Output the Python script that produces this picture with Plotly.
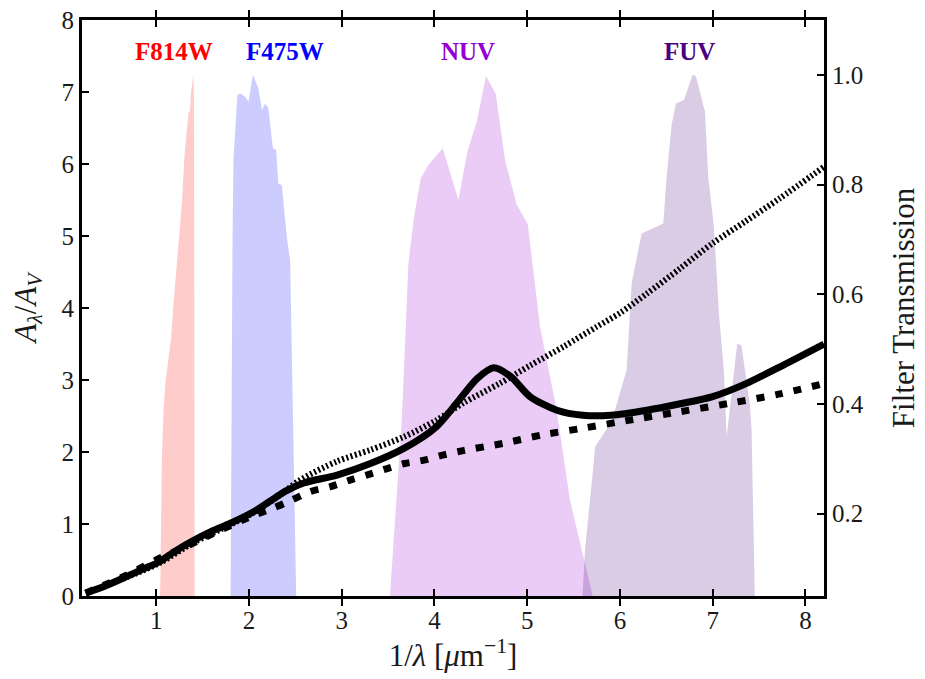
import plotly.graph_objects as go

# ---------------- data ----------------
# extinction curves  A_lambda / A_V  vs  1/lambda [um^-1]
solid_x = [0.24, 0.45, 0.68, 0.85, 1.04, 1.2, 1.4, 1.6, 1.8, 2.05, 2.23, 2.4, 2.59, 2.95,
           3.31, 3.67, 4.02, 4.24, 4.46, 4.64, 4.82, 5.03, 5.32, 5.6, 5.9, 6.29, 6.65,
           7.0, 7.36, 7.72, 8.2]
solid_y = [0.04, 0.14, 0.27, 0.37, 0.48, 0.62, 0.77, 0.90, 1.01, 1.17, 1.32, 1.46, 1.57, 1.68,
           1.84, 2.05, 2.35, 2.68, 3.02, 3.17, 3.05, 2.77, 2.58, 2.51, 2.51, 2.58, 2.67,
           2.77, 2.95, 3.18, 3.50]

dash_x = [0.24, 0.68, 1.08, 1.28, 1.6, 2.05, 2.26, 2.44, 2.66, 2.88, 3.09, 3.27, 3.49,
          3.68, 3.9, 4.1, 4.31, 4.74, 5.17, 5.6, 6.0, 6.65, 7.2, 7.7, 8.2]
dash_y = [0.04, 0.29, 0.55, 0.66, 0.86, 1.12, 1.22, 1.32, 1.45, 1.52, 1.61, 1.68, 1.77,
          1.84, 1.89, 1.96, 2.02, 2.12, 2.24, 2.33, 2.42, 2.56, 2.68, 2.80, 2.95]

dot_x = [0.24, 0.68, 1.04, 1.4, 1.8, 2.05, 2.3, 2.55, 2.95, 3.31, 3.67, 4.02, 4.31, 4.7,
         5.03, 5.4, 5.75, 6.0, 6.29, 6.65, 7.0, 7.35, 7.72, 8.2]
dot_y = [0.04, 0.26, 0.46, 0.74, 0.99, 1.16, 1.37, 1.61, 1.87, 2.03, 2.21, 2.44, 2.68, 2.95,
         3.20, 3.47, 3.74, 3.93, 4.20, 4.55, 4.90, 5.20, 5.52, 5.96]

# filter transmission curves (normalised)
f814_x = [1.035, 1.045, 1.061, 1.079, 1.10, 1.144, 1.16, 1.187, 1.24, 1.277, 1.305, 1.348,
          1.366, 1.374, 1.402, 1.408, 1.415]
f814_t = [0.0, 0.08, 0.30, 0.389, 0.44, 0.498, 0.52, 0.584, 0.693, 0.766, 0.854, 0.93,
          0.936, 0.966, 1.0, 0.95, 0.0]

f475_x = [1.80, 1.81, 1.823, 1.833, 1.85, 1.875, 1.905, 1.959, 1.995, 2.042, 2.067, 2.103,
          2.139, 2.175, 2.21, 2.258, 2.293, 2.318, 2.354, 2.408, 2.444, 2.462, 2.48, 2.505, 2.515]
f475_t = [0.0, 0.45, 0.70, 0.845, 0.89, 0.963, 0.966, 0.96, 0.951, 1.0, 0.99, 0.975,
          0.936, 0.948, 0.939, 0.866, 0.863, 0.802, 0.799, 0.705, 0.662, 0.48, 0.298, 0.079, 0.0]

nuv_x = [3.50, 3.55, 3.594, 3.648, 3.683, 3.719, 3.78, 3.852, 3.935, 4.09, 4.258, 4.355,
         4.456, 4.556, 4.661, 4.761, 4.887, 5.006, 5.138, 5.19, 5.318, 5.461, 5.605, 5.72, 5.75]
nuv_t = [0.0, 0.12, 0.225, 0.371, 0.51, 0.656, 0.741, 0.811, 0.836, 0.866, 0.772, 0.86,
         0.915, 0.998, 0.965, 0.845, 0.763, 0.728, 0.541, 0.498, 0.389, 0.225, 0.122, 0.04, 0.0]

fuv_x = [5.58, 5.623, 5.713, 5.731, 5.91, 6.072, 6.126, 6.234, 6.467, 6.503, 6.557, 6.603,
         6.69, 6.783, 6.819, 6.916, 6.952, 7.013, 7.07, 7.12, 7.15, 7.264, 7.31, 7.40, 7.419,
         7.447, 7.46]
fuv_t = [0.0, 0.134, 0.286, 0.322, 0.368, 0.462, 0.62, 0.711, 0.729, 0.814, 0.909, 0.948,
         0.954, 1.0, 0.998, 0.933, 0.814, 0.723, 0.559, 0.462, 0.34, 0.51, 0.507, 0.40, 0.353,
         0.055, 0.0]

filter_names = ["F814W", "F475W", "NUV", "FUV"]
filter_label_x = [1.19, 2.39, 4.36, 6.75]
filter_label_t = [1.042, 1.042, 1.042, 1.042]

x_ticks = [1, 2, 3, 4, 5, 6, 7, 8]
y_ticks = [0, 1, 2, 3, 4, 5, 6, 7, 8]
t_ticks = [0.2, 0.4, 0.6, 0.8, 1.0]
t_ticklabels = ["0.2", "0.4", "0.6", "0.8", "1.0"]

# ---------------- styling ----------------
FONT = "Liberation Serif"
TXT = "#1a1a1a"
filter_fill = ["rgba(255,0,0,0.2)", "rgba(0,0,255,0.2)", "rgba(148,0,211,0.2)", "rgba(75,0,130,0.2)"]
filter_text = ["#ff0000", "#0000ff", "#9400d3", "#4b0082"]

fig = go.Figure()

for fx, ft, fc in zip([f814_x, f475_x, nuv_x, fuv_x], [f814_t, f475_t, nuv_t, fuv_t], filter_fill):
    fig.add_trace(go.Scatter(x=fx, y=ft, mode="lines", fill="tozeroy", fillcolor=fc,
                             line=dict(width=0, color=fc), yaxis="y", hoverinfo="skip",
                             showlegend=False))

fig.add_trace(go.Scatter(x=dot_x, y=dot_y, mode="lines", yaxis="y2", showlegend=False,
                         line=dict(color="black", width=6, dash="2px,2.4px",
                                   shape="spline", smoothing=0.8)))
fig.add_trace(go.Scatter(x=dash_x, y=dash_y, mode="lines", yaxis="y2", showlegend=False,
                         line=dict(color="black", width=7, dash="8px,11px",
                                   shape="spline", smoothing=0.8)))
fig.add_trace(go.Scatter(x=solid_x, y=solid_y, mode="lines", yaxis="y2", showlegend=False,
                         line=dict(color="black", width=7, shape="spline", smoothing=0.8)))

for name, lx, lt, col in zip(filter_names, filter_label_x, filter_label_t, filter_text):
    fig.add_annotation(x=lx, y=lt, xref="x", yref="y", text="<b>%s</b>" % name,
                       showarrow=False, yanchor="middle",
                       font=dict(family=FONT, size=25, color=col))

axis_common = dict(showline=True, linecolor="black", linewidth=3, ticks="inside",
                   ticklen=7, tickwidth=2, tickcolor="black", showgrid=False, zeroline=False,
                   automargin=False, ticklabeloverflow="allow",
                   tickfont=dict(family=FONT, size=25, color=TXT))

# the page adds an 8 px body margin, so the figure is sized to fit the 925x679 window
fig.update_layout(
    width=917, height=671,
    margin=dict(l=74, r=101, t=12, b=83, autoexpand=False),
    plot_bgcolor="white", paper_bgcolor="white",
    font=dict(family=FONT, color=TXT),
    xaxis=dict(range=[0.2, 8.2], tickvals=x_ticks, mirror="allticks",
               title=dict(text="1/<i>λ</i> [<i>μ</i>m<sup>−1</sup>]",
                          font=dict(family=FONT, size=31, color=TXT), standoff=6),
               **axis_common),
    yaxis=dict(range=[0.05, 1.1], side="right", tickvals=t_ticks, ticktext=t_ticklabels,
               title=dict(text="Filter Transmission", font=dict(family=FONT, size=31, color=TXT),
                          standoff=30),
               **axis_common),
    yaxis2=dict(range=[0, 8], side="left", overlaying="y", tickvals=y_ticks,
                title=dict(text="<i>A</i><sub><i>λ</i></sub>/<i>A</i><sub><i>V</i></sub>",
                           font=dict(family=FONT, size=31, color=TXT), standoff=18),
                **axis_common),
)

fig.write_html("out.html")
